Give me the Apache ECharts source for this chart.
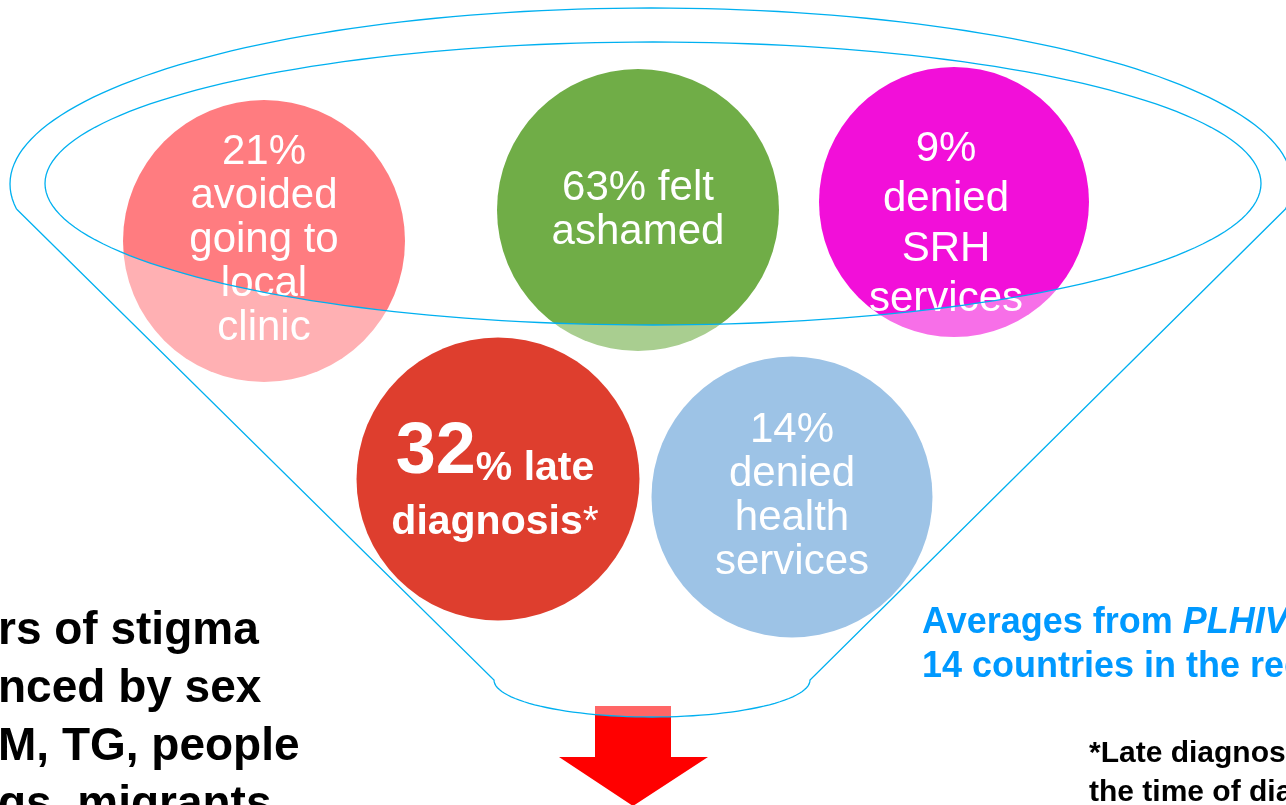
<!DOCTYPE html>
<html>
<head>
<meta charset="utf-8">
<script src="https://cdn.jsdelivr.net/npm/echarts@6/dist/echarts.min.js"></script>
<style>
  html, body { margin: 0; padding: 0; background: #fff; }
  #chart { width: 1286px; height: 805px; }
</style>
</head>
<body>
<div id="chart"></div>
<script>
// data
const bubblePercents = [21, 63, 9, 32, 14]
const bubbleTexts = [
  'avoided\ngoing to\nlocal\nclinic',
  'felt\nashamed',
  'denied\nSRH\nservices',
  'late\ndiagnosis*',
  'denied\nhealth\nservices'
]
const bubbleColors = ['#FF7C80', '#70AD47', '#F20FD9', '#DE3E2E', '#9DC3E6']
const upperIdx = [0, 1, 2]
const lowerIdx = [3, 4]

// layout (pixels)
const centers = [[264, 241], [638, 210], [954, 202], [498, 479], [792, 497]]
const diameters = [282, 282, 270, 283, 281]
const labelOffsets = [[0, -1], [0, 0], [-8, 22], [-3, 8], [0, -1]]

const W = 1286, H = 805
const BLUE_LINE = '#00B0F0'
const FONT = "'Liberation Sans', Arial, sans-serif"

function ellipsePts(cx, cy, rx, ry, t0, t1, n) {
  const pts = []
  for (let i = 0; i <= n; i++) {
    const t = t0 + (t1 - t0) * i / n
    pts.push([cx + rx * Math.cos(t), cy + ry * Math.sin(t)])
  }
  return pts
}

function labelFor(i) {
  const pct = bubblePercents[i]
  const lines = bubbleTexts[i].split('\n')
  if (i === 3) {
    return `{big|${pct}}{mid|% ${lines[0]}}\n{mid|diagnosis}{reg|*}`
  }
  if (i === 1) {
    return `{t|${pct}% ${lines[0]}}\n{t|${lines[1]}}`
  }
  return [`${pct}%`].concat(lines).map(s => `{t|${s}}`).join('\n')
}

function bubbleItem(i) {
  const lh = i === 2 ? 50 : 44
  return {
    value: centers[i],
    symbolSize: diameters[i],
    itemStyle: { color: bubbleColors[i], opacity: 1 },
    label: {
      show: true,
      position: 'inside',
      offset: labelOffsets[i],
      formatter: labelFor(i),
      rich: {
        t: { fontSize: 42, lineHeight: lh, color: '#fff', fontFamily: FONT },
        big: { fontSize: 72, fontWeight: 'bold', color: '#fff', fontFamily: FONT, lineHeight: 58, verticalAlign: 'bottom' },
        mid: { fontSize: 41, fontWeight: 'bold', color: '#fff', fontFamily: FONT, lineHeight: 54, verticalAlign: 'bottom' },
        reg: { fontSize: 41, color: '#fff', fontFamily: FONT, lineHeight: 54, verticalAlign: 'bottom' }
      }
    }
  }
}

// funnel geometry (decoration)
const outerTop = ellipsePts(651, 184, 641, 176, Math.PI - 0.1425, 2 * Math.PI + 0.1425, 120)
const bottomArc = ellipsePts(652, 680, 158, 37, 0, Math.PI, 60)
const funnelOutline = outerTop.concat(bottomArc)
funnelOutline.push(outerTop[0])
const innerEllipse = ellipsePts(653, 183.5, 608, 141.5, 0, 2 * Math.PI, 200)
const innerLower = ellipsePts(653, 183.5, 608, 141.5, Math.PI, 0, 100)
const frontFace = innerLower.concat([outerTop[outerTop.length - 1]], bottomArc, [outerTop[0]])

const chart = echarts.init(document.getElementById('chart'), null, { renderer: 'canvas' })
const option = {
  animation: false,
  grid: { left: 0, right: 0, top: 0, bottom: 0 },
  xAxis: { type: 'value', min: 0, max: W, show: false },
  yAxis: { type: 'value', min: 0, max: H, inverse: true, show: false },
  series: [
    {
      type: 'scatter',
      z: 2,
      symbol: 'circle',
      emphasis: { disabled: true },
      data: upperIdx.map(bubbleItem)
    },
    {
      type: 'scatter',
      z: 4,
      symbol: 'circle',
      emphasis: { disabled: true },
      data: lowerIdx.map(bubbleItem)
    }
  ],
  graphic: [
    {
      type: 'polygon',
      z: 1,
      shape: { points: [[595, 706], [671, 706], [671, 757], [708, 757], [633, 806], [559, 757], [595, 757]] },
      style: { fill: '#FF0000' }
    },
    {
      type: 'polygon',
      z: 3,
      silent: true,
      shape: { points: frontFace },
      style: { fill: 'rgba(255,255,255,0.4)' }
    },
    {
      type: 'polyline',
      z: 5,
      shape: { points: funnelOutline },
      style: { stroke: BLUE_LINE, lineWidth: 1.3, fill: null }
    },
    {
      type: 'polyline',
      z: 5,
      shape: { points: innerEllipse },
      style: { stroke: BLUE_LINE, lineWidth: 1.3, fill: null }
    },
    {
      type: 'text',
      z: 6,
      left: -2,
      top: 602,
      style: {
        text: 'rs of stigma\nnced by sex\nM, TG, people\ngs, migrants',
        font: 'bold 46px ' + FONT,
        lineHeight: 58,
        fill: '#000'
      }
    },
    {
      type: 'text',
      z: 6,
      left: 922,
      top: 605,
      style: {
        text: '{b|Averages from }{i|PLHIV Stigma Index surveys in}\n{b|14 countries in the region}',
        rich: {
          b: { fontSize: 36, fontWeight: 'bold', fontFamily: FONT, fill: '#0099FF', lineHeight: 44 },
          i: { fontSize: 36, fontWeight: 'bold', fontStyle: 'italic', fontFamily: FONT, fill: '#0099FF', lineHeight: 44 }
        }
      }
    },
    {
      type: 'text',
      z: 6,
      left: 1089,
      top: 734,
      style: {
        text: '*Late diagnosis defined as CD4 count < 350 at\nthe time of diagnosis',
        font: 'bold 30px ' + FONT,
        lineHeight: 39,
        fill: '#000'
      }
    }
  ]
}
chart.setOption(option)
window.addEventListener('resize', () => {
  chart.resize()
})
</script>
</body>
</html>
